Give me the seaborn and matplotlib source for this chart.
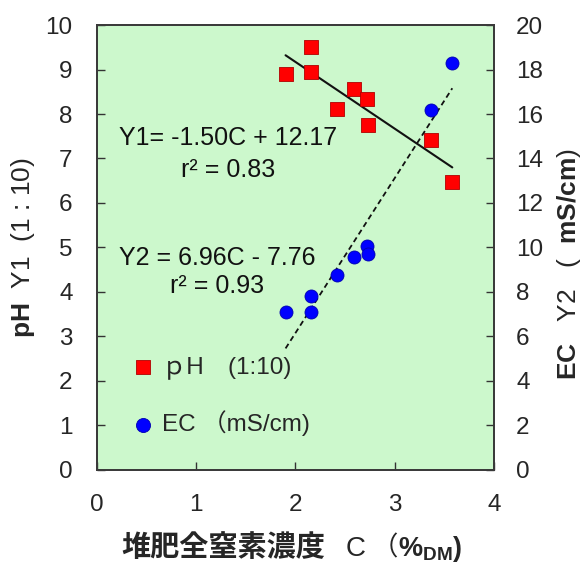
import numpy as np
import pandas as pd
import matplotlib
matplotlib.use("Agg")
import matplotlib.pyplot as plt
import seaborn as sns
from matplotlib.offsetbox import TextArea, HPacker, AnnotationBbox, DrawingArea

# Compost total nitrogen (% of dry matter) and the measured properties
nitrogen = [1.90, 2.16, 2.16, 2.42, 2.59, 2.72, 2.73, 3.37, 3.58]
ph_values = [8.90, 9.50, 8.95, 8.11, 8.56, 8.34, 7.76, 7.42, 6.47]
ec_values = [7.11, 7.83, 7.11, 8.76, 9.56, 10.07, 9.71, 16.18, 18.28]

# Regression results (slope, intercept, r^2)
ph_fit = (-1.50, 12.17)
ph_r2 = 0.83
ec_fit = (6.96, -7.76)
ec_r2 = 0.93

x_ticks = [0, 1, 2, 3, 4]
y1_ticks = list(range(0, 11))
y2_ticks = list(range(0, 21, 2))

legend_labels = ["ｐH　(1:10)", "EC （mS/cm)"]

sns.set_style("ticks")
plt.rcParams["font.family"] = ["Liberation Sans", "Noto Sans CJK JP"]
plt.rcParams["mathtext.fontset"] = "custom"
plt.rcParams["mathtext.rm"] = "Liberation Sans"
plt.rcParams["mathtext.bf"] = "Liberation Sans:bold"
plt.rcParams["mathtext.it"] = "Liberation Sans:italic"

df = pd.DataFrame({"C": nitrogen, "pH": ph_values, "EC": ec_values})

fig = plt.figure(figsize=(5.85, 5.67), dpi=100)
ax = fig.add_axes([0.1658, 0.1711, 0.6786, 0.7848])
ax.set_facecolor("#ccf8cc")
ax2 = ax.twinx()

# fitted lines over the observed range
xs = np.array([min(nitrogen), max(nitrogen)])
ax.plot(xs, ph_fit[0] * xs + ph_fit[1], color="#111111", lw=1.5, zorder=2)
ax2.plot(xs, ec_fit[0] * xs + ec_fit[1], color="#111111", lw=1.3,
         ls=(0, (3, 2)), zorder=2)

sns.scatterplot(data=df, x="C", y="pH", ax=ax, marker="s", s=95,
                color="#ff0000", edgecolor="#b00000", linewidth=0.6,
                zorder=3, label=legend_labels[0])
sns.scatterplot(data=df, x="C", y="EC", ax=ax2, marker="o", s=88,
                color="#0000ff", edgecolor="#0000b0", linewidth=0.6,
                zorder=3, label=legend_labels[1])

h1, l1 = ax.get_legend_handles_labels()
h2, l2 = ax2.get_legend_handles_labels()
if ax.get_legend():
    ax.get_legend().remove()
ax2.legend(h1 + h2, l1 + l2, loc="upper left", bbox_to_anchor=(0.097, 0.256),
           frameon=False, fontsize=17.5, handlelength=0.6, handletextpad=0.5,
           labelspacing=1.3, borderaxespad=0, borderpad=0, markerscale=1.08)

ax.set_xlim(0, 4)
ax.set_ylim(0, 10)
ax2.set_ylim(0, 20)
ax.set_xticks(x_ticks)
ax.set_yticks(y1_ticks)
ax2.set_yticks(y2_ticks)

ax.tick_params(axis="both", direction="in", length=6, width=1,
               labelsize=17.5, pad=17.5, color="#333333")
ax2.tick_params(axis="y", direction="in", length=6, width=1,
                labelsize=17.5, pad=16, color="#333333")
ax.tick_params(axis="x", pad=17)

for a in (ax, ax2):
    for sp in a.spines.values():
        sp.set_color("#3a3a3a")
        sp.set_linewidth(1.3)
        sp.set_visible(True)

ax.set_xlabel("")
ax.set_ylabel(r"$\mathbf{pH}$  Y1  (1 : 10)", fontsize=19, labelpad=6)
ax2.set_ylabel(r"$\mathbf{EC}$   Y2   (  $\mathbf{mS/cm}$)", fontsize=19)
ax2.yaxis.set_label_coords(1.153, 0.462)

# regression equations
ax.text(1.325, 7.30, f"Y1= {ph_fit[0]:.2f}C + {ph_fit[1]:.2f}",
        ha="center", va="baseline", fontsize=18, color="#111111")
ax.text(1.325, 6.58, f"r² = {ph_r2:.2f}",
        ha="center", va="baseline", fontsize=18, color="#111111")
ax.text(1.214, 4.61, f"Y2 = {ec_fit[0]:.2f}C - {abs(ec_fit[1]):.2f}",
        ha="center", va="baseline", fontsize=18, color="#111111")
ax.text(1.214, 3.98, f"r² = {ec_r2:.2f}",
        ha="center", va="baseline", fontsize=18, color="#111111")

# x-axis title built from mixed-weight pieces
parts = [
    TextArea("堆肥全窒素濃度", textprops=dict(fontsize=21, fontweight="bold",
                                              family="Noto Sans CJK JP")),
    DrawingArea(15, 1),
    TextArea("C", textprops=dict(fontsize=20, family="Liberation Sans")),
    DrawingArea(4, 1),
    TextArea("（", textprops=dict(fontsize=19, family="Noto Sans CJK JP")),
    TextArea(r"%$_{\mathbf{DM}}$)", textprops=dict(fontsize=19.5,
                                                   fontweight="bold",
                                                   family="Liberation Sans")),
]
box = HPacker(children=parts, align="baseline", pad=0, sep=0)
ab = AnnotationBbox(box, (0.49, -0.175), xycoords="axes fraction",
                    frameon=False, box_alignment=(0.5, 0.5),
                    annotation_clip=False)
ax.add_artist(ab)

fig.savefig("out.png", dpi=100, facecolor="white")
